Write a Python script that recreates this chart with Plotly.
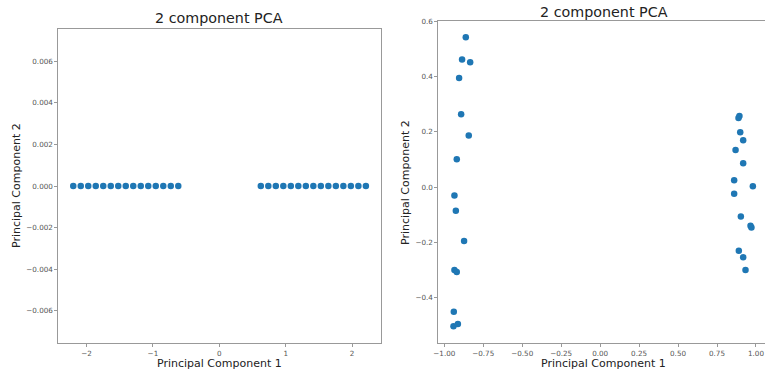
import plotly.graph_objects as go

# Left chart: PC1 values (PC2 all zero)
left_pc1 = [-2.200, -2.087, -1.974, -1.861, -1.748, -1.635, -1.522, -1.409, -1.296,
            -1.183, -1.070, -0.957, -0.844, -0.731, -0.618,
            0.625, 0.738, 0.851, 0.964, 1.077, 1.190, 1.303, 1.416, 1.529,
            1.642, 1.755, 1.868, 1.981, 2.094, 2.207]
left_pc2 = [0.0] * 30

# Right chart
right_pc1 = [-0.862, -0.886, -0.834, -0.905, -0.892, -0.843, -0.920, -0.935, -0.926,
             -0.873, -0.935, -0.920, -0.939, -0.941, -0.913,
             0.894, 0.888, 0.899, 0.918, 0.869, 0.918, 0.860, 0.980, 0.860,
             0.903, 0.965, 0.971, 0.890, 0.918, 0.933]
right_pc2 = [0.542, 0.462, 0.452, 0.395, 0.264, 0.187, 0.101, -0.030, -0.085,
             -0.194, -0.299, -0.306, -0.450, -0.502, -0.494,
             0.258, 0.250, 0.199, 0.170, 0.135, 0.087, 0.025, 0.004, -0.023,
             -0.106, -0.139, -0.145, -0.229, -0.253, -0.299]

left_xticks = [-2, -1, 0, 1, 2]
left_xtext = ["\u22122", "\u22121", "0", "1", "2"]
left_yticks = [-0.006, -0.004, -0.002, 0.0, 0.002, 0.004, 0.006]
left_ytext = ["\u22120.006", "\u22120.004", "\u22120.002", "0.000", "0.002", "0.004", "0.006"]
right_xticks = [-1.0, -0.75, -0.5, -0.25, 0.0, 0.25, 0.5, 0.75, 1.0]
right_xtext = ["\u22121.00", "\u22120.75", "\u22120.50", "\u22120.25", "0.00", "0.25", "0.50", "0.75", "1.00"]
right_yticks = [-0.4, -0.2, 0.0, 0.2, 0.4, 0.6]
right_ytext = ["\u22120.4", "\u22120.2", "0.0", "0.2", "0.4", "0.6"]

title_text = "2 component PCA"
xlabel = "Principal Component 1"
ylabel = "Principal Component 2"

BLUE = "#1f77b4"
FONT = "DejaVu Sans"
W, H = 765, 376

fig = go.Figure()
fig.add_trace(go.Scatter(x=left_pc1, y=left_pc2, mode="markers",
                         marker=dict(color=BLUE, size=6.5), xaxis="x", yaxis="y",
                         showlegend=False))
fig.add_trace(go.Scatter(x=right_pc1, y=right_pc2, mode="markers",
                         marker=dict(color=BLUE, size=6.5), xaxis="x2", yaxis="y2",
                         showlegend=False))

axis_common = dict(showgrid=False, zeroline=False, showline=True, linecolor="#999",
                   linewidth=1, mirror=True, ticks="outside", ticklen=3, automargin=False,
                   tickcolor="#999", tickfont=dict(family=FONT, size=7.2, color="#555"))

def ann(text, xpx, ypx, size, angle=0):
    return dict(text=text, x=xpx / W, y=1 - ypx / H, xref="paper", yref="paper",
                showarrow=False, xanchor="center", yanchor="middle", textangle=angle,
                font=dict(family=FONT, size=size, color="#222"))

fig.update_layout(
    width=W, height=H,
    margin=dict(l=0, r=0, t=0, b=0, autoexpand=False),
    paper_bgcolor="white", plot_bgcolor="white",
    font=dict(family=FONT),
    xaxis=dict(domain=[58.3 / W, 381 / W], range=[-2.425, 2.435],
               tickvals=left_xticks, ticktext=left_xtext, anchor="y", **axis_common),
    yaxis=dict(domain=[1 - 343.3 / H, 1 - 28.7 / H], range=[-0.00757, 0.00757],
               tickvals=left_yticks, ticktext=left_ytext, anchor="x", **axis_common),
    xaxis2=dict(domain=[438.3 / W, 1.0], range=[-1.0385, 1.058],
                tickvals=right_xticks, ticktext=right_xtext, anchor="y2", **axis_common),
    yaxis2=dict(domain=[1 - 343.3 / H, 1 - 21.3 / H], range=[-0.564, 0.6],
                tickvals=right_yticks, ticktext=right_ytext, anchor="x2", **axis_common),
    annotations=[
        ann(title_text, 219.5, 18, 14.3),
        ann(title_text, 604, 11.5, 14.3),
        ann(xlabel, 219.5, 363.5, 11),
        ann(xlabel, 603, 363.5, 11),
        ann(ylabel, 16, 186, 11, -90),
        ann(ylabel, 405, 183, 11, -90),
    ],
)

fig.write_html("out.html", config={"displayModeBar": False},
               post_script="document.body.style.margin='0';document.body.style.overflow='hidden';")
